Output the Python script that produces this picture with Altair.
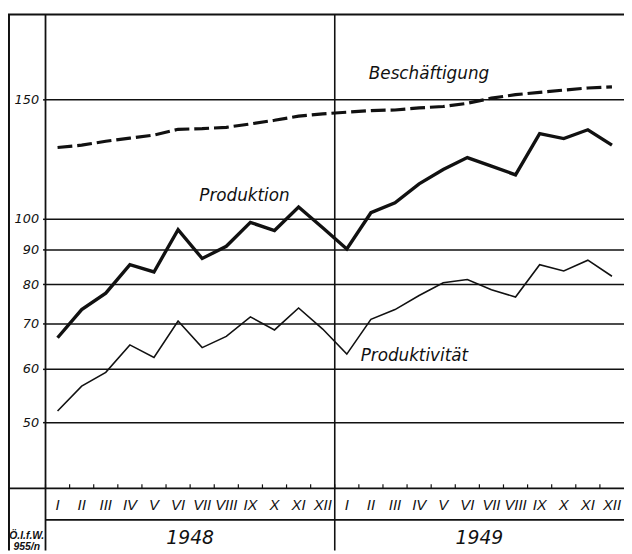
import altair as alt
import pandas as pd

# ---------------- data ----------------
years = ["1948", "1949"]
months = ["I", "II", "III", "IV", "V", "VI", "VII", "VIII", "IX", "X", "XI", "XII"]

beschaeftigung = [127.3, 128.3, 130.0, 131.4, 132.8, 135.4, 135.7, 136.3, 137.9, 139.6, 141.6, 142.7,
                  143.5, 144.3, 144.6, 145.6, 146.3, 147.9, 150.5, 152.3, 153.5, 154.7, 155.8, 156.4]
produktion = [66.7, 73.4, 77.6, 85.5, 83.4, 96.3, 87.3, 91.0, 98.7, 96.0, 104.0, 96.9,
              90.2, 102.0, 105.5, 112.5, 118.1, 123.0, 119.5, 116.0, 133.4, 131.2, 135.2, 128.3]
produktivitaet = [52.0, 56.6, 59.3, 65.1, 62.4, 70.6, 64.5, 67.0, 71.6, 68.5, 73.8, 68.7,
                  63.1, 71.0, 73.4, 77.0, 80.4, 81.3, 78.5, 76.6, 85.5, 83.7, 86.8, 82.2]

y_ticks = [50, 60, 70, 80, 90, 100, 150]
series_names = ["Beschäftigung", "Produktion", "Produktivität"]
label_keys = ["1949 IV", "1948 IX", "1949 I"]
label_values = [163.5, 107.9, 62.7]
source_note = "Ö.I.f.W.\n955/n"

# ---------------- tables ----------------
keys = [f"{y} {m}" for y in years for m in months]
df = pd.DataFrame({
    "key": keys * 3,
    "series": [series_names[0]] * 24 + [series_names[1]] * 24 + [series_names[2]] * 24,
    "value": beschaeftigung + produktion + produktivitaet,
})
keys_df = pd.DataFrame({"key": keys})
years_df = pd.DataFrame({"key": [f"{y} VII" for y in years], "year": years})
div_df = pd.DataFrame({"key": ["1949 I"]})

W, H = 586, 480
INK = "#111111"
FONT = "DejaVu Sans"

xscale = alt.Scale(type="band", domain=keys, paddingInner=0, paddingOuter=0)
X = alt.X("key:N", scale=xscale, bandPosition=0.5,
          axis=alt.Axis(title=None, labelExpr="split(datum.label, ' ')[1]", labelAngle=0,
                        domain=False, ticks=False, grid=False,
                        labelFont="Liberation Sans", labelFontStyle="italic",
                        labelFontSize=15, labelColor=INK, labelPadding=9))
Y = alt.Y("value:Q", scale=alt.Scale(type="log", domain=[40, 200], nice=False),
          axis=alt.Axis(title=None, values=y_ticks, format="d", grid=True, gridColor=INK,
                        gridWidth=1.5, gridOpacity=1, domain=False, tickSize=3, tickColor=INK,
                        tickWidth=1.5, labelFont=FONT, labelFontStyle="italic", labelFontSize=13,
                        labelColor=INK, labelPadding=4))

base = alt.Chart(df)

line_b = base.transform_filter(alt.datum.series == series_names[0]).mark_line(
    color=INK, strokeWidth=3.2, strokeDash=[15, 5]).encode(x=X, y=Y)
line_p = base.transform_filter(alt.datum.series == series_names[1]).mark_line(
    color=INK, strokeWidth=3.4, strokeJoin="miter").encode(x=X, y=Y)
line_q = base.transform_filter(alt.datum.series == series_names[2]).mark_line(
    color=INK, strokeWidth=1.6).encode(x=X, y=Y)

# series labels
lab_df = pd.DataFrame({"text": series_names, "key": label_keys, "value": label_values})
lab_b = alt.Chart(lab_df).transform_filter(alt.datum.text == series_names[0]).mark_text(
    font=FONT, fontStyle="italic", fontSize=17, color=INK, align="center", baseline="middle", dx=10
).encode(x=X, y=Y, text="text:N")
lab_p = alt.Chart(lab_df).transform_filter(alt.datum.text == series_names[1]).mark_text(
    font=FONT, fontStyle="italic", fontSize=17, color=INK, align="center", baseline="middle", dx=-6
).encode(x=X, y=Y, text="text:N")
lab_q = alt.Chart(lab_df).transform_filter(alt.datum.text == series_names[2]).mark_text(
    font=FONT, fontStyle="italic", fontSize=17, color=INK, align="left", baseline="middle", dx=14
).encode(x=X, y=Y, text="text:N")

# frame
def hrule(y, x1, x2, w=1.6):
    return alt.Chart(keys_df.head(1)).mark_rule(color=INK, strokeWidth=w).encode(
        x=alt.value(x1), x2=alt.value(x2), y=alt.value(y))

def vrule(x, y1, y2, w=1.6):
    return alt.Chart(keys_df.head(1)).mark_rule(color=INK, strokeWidth=w).encode(
        x=alt.value(x), y=alt.value(y1), y2=alt.value(y2))

BOTTOM = H + 63
frame = [
    hrule(0, -38, W, 2),          # top border
    vrule(-37, 0, BOTTOM, 2),     # left border
    vrule(0, 0, BOTTOM, 1.8),     # value axis line
    hrule(H, -38, W, 1.8),        # base line
    hrule(H + 32, 0, W, 1.6),     # line between months and years
]

divider = alt.Chart(div_df).mark_rule(color=INK, strokeWidth=1.6).encode(
    x=alt.X("key:N", scale=xscale, bandPosition=0), y=alt.value(0), y2=alt.value(BOTTOM))

ticks = alt.Chart(keys_df).mark_rule(color=INK, strokeWidth=1.2).encode(
    x=alt.X("key:N", scale=xscale, bandPosition=0), y=alt.value(H - 4), y2=alt.value(H))

year_text = alt.Chart(years_df).mark_text(
    font=FONT, fontStyle="italic", fontSize=19, color=INK, align="center", baseline="middle"
).encode(x=alt.X("key:N", scale=xscale, bandPosition=0), y=alt.value(H + 50), text="year:N")

note = alt.Chart(pd.DataFrame({"t": [source_note]})).mark_text(
    font="Liberation Sans", fontStyle="italic", fontWeight="bold", fontSize=10.5, color=INK,
    align="center", baseline="middle", lineBreak="\n", lineHeight=12
).encode(x=alt.value(-19), y=alt.value(H + 48), text="t:N")

chart = alt.layer(
    line_q, line_p, line_b, lab_b, lab_p, lab_q, divider, ticks, year_text, note, *frame
).properties(
    width=W, height=H,
    autosize=alt.AutoSizeParams(type="none"),
    padding={"left": 38, "top": 3, "right": 0, "bottom": 63},
    background="white",
).configure_view(stroke=None)

chart.save("out.html", embed_options={"renderer": "svg", "actions": False})
